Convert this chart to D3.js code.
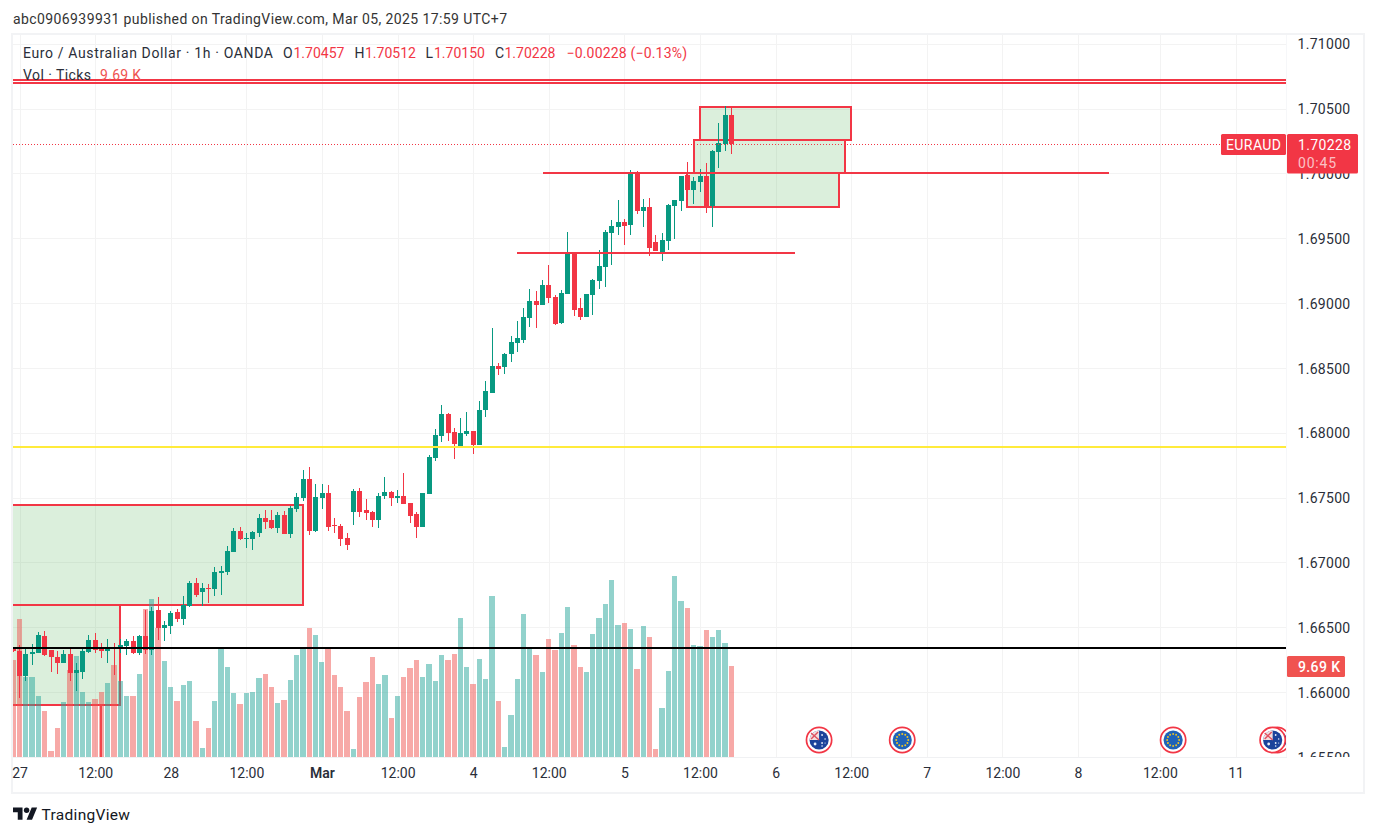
<!DOCTYPE html>
<html><head><meta charset="utf-8">
<script src="https://cdn.jsdelivr.net/npm/d3@7"></script>
<style>html,body{margin:0;padding:0;background:#fff}svg{display:block}text{font-family:Roboto,"Noto Sans",sans-serif}</style>
</head><body><div id="c"></div>
<script>
const opens=[1.66345,1.66320,1.66129,1.66296,1.66304,1.66435,1.66327,1.66273,1.66227,1.66296,1.66150,1.66158,1.66312,1.66404,1.66335,1.66320,1.66343,1.66335,1.66358,1.66397,1.66304,1.66435,1.66327,1.66636,1.66497,1.66512,1.66620,1.66566,1.66667,1.66844,1.66774,1.66805,1.66798,1.66921,1.66929,1.67083,1.67245,1.67183,1.67183,1.67229,1.67345,1.67330,1.67268,1.67368,1.67222,1.67414,1.67499,1.67646,1.67245,1.67499,1.67538,1.67291,1.67284,1.67191,1.67391,1.67553,1.67407,1.67391,1.67330,1.67515,1.67546,1.67499,1.67515,1.67461,1.67376,1.67276,1.67530,1.67808,1.67977,1.68147,1.68008,1.67900,1.67993,1.68016,1.67908,1.68178,1.68309,1.68517,1.68509,1.68610,1.68694,1.68718,1.68887,1.69018,1.68987,1.69142,1.69049,1.68849,1.69072,1.69388,1.68964,1.68895,1.69065,1.69172,1.69280,1.69543,1.69589,1.69627,1.69604,1.70005,1.69712,1.69743,1.69473,1.69396,1.69481,1.69751,1.69789,1.69990,1.69874,1.69936,1.69982,1.69751,1.70167,1.70229,1.70457];
const highs=[1.66353,1.66366,1.66340,1.66374,1.66466,1.66474,1.66327,1.66320,1.66327,1.66335,1.66227,1.66350,1.66443,1.66458,1.66381,1.66412,1.66381,1.66412,1.66412,1.66435,1.66443,1.66636,1.66659,1.66736,1.66551,1.66628,1.66643,1.66744,1.66859,1.66882,1.66844,1.66836,1.66967,1.66975,1.67129,1.67268,1.67276,1.67229,1.67245,1.67376,1.67407,1.67407,1.67391,1.67399,1.67438,1.67538,1.67715,1.67738,1.67607,1.67607,1.67600,1.67345,1.67299,1.67230,1.67569,1.67577,1.67492,1.67399,1.67538,1.67661,1.67553,1.67561,1.67692,1.67461,1.67391,1.67538,1.67831,1.68031,1.68216,1.68155,1.68039,1.68116,1.68162,1.68016,1.68247,1.68401,1.68810,1.68540,1.68617,1.68748,1.68864,1.68964,1.69111,1.69095,1.69180,1.69296,1.69065,1.69103,1.69550,1.69388,1.69041,1.69072,1.69188,1.69411,1.69566,1.69643,1.69797,1.69651,1.70028,1.70021,1.69805,1.69812,1.69527,1.69543,1.69766,1.69797,1.69982,1.70090,1.69974,1.70036,1.70082,1.70182,1.70391,1.70522,1.70512];
const lows=[1.66312,1.65957,1.66088,1.66212,1.66304,1.66281,1.66158,1.66142,1.66227,1.66088,1.66011,1.66104,1.66304,1.66304,1.66266,1.66227,1.66135,1.66304,1.66289,1.66296,1.66289,1.66296,1.66289,1.66404,1.66397,1.66451,1.66543,1.66520,1.66659,1.66736,1.66667,1.66690,1.66744,1.66751,1.66906,1.67083,1.67175,1.67114,1.67098,1.67199,1.67260,1.67260,1.67229,1.67222,1.67191,1.67391,1.67476,1.67214,1.67237,1.67415,1.67245,1.67230,1.67129,1.67098,1.67291,1.67353,1.67330,1.67276,1.67268,1.67492,1.67438,1.67461,1.67453,1.67307,1.67191,1.67276,1.67530,1.67785,1.67931,1.67939,1.67800,1.67900,1.67977,1.67839,1.67908,1.68124,1.68309,1.68448,1.68455,1.68548,1.68625,1.68694,1.68818,1.68810,1.68987,1.69003,1.68833,1.68841,1.69072,1.68903,1.68872,1.68895,1.68910,1.69111,1.69126,1.69296,1.69527,1.69450,1.69527,1.69689,1.69589,1.69365,1.69404,1.69327,1.69411,1.69496,1.69712,1.69789,1.69766,1.69859,1.69697,1.69589,1.70044,1.70175,1.70150];
const closes=[1.66320,1.66129,1.66296,1.66312,1.66443,1.66289,1.66273,1.66227,1.66296,1.66150,1.66173,1.66320,1.66404,1.66327,1.66320,1.66343,1.66335,1.66366,1.66397,1.66304,1.66435,1.66327,1.66628,1.66497,1.66520,1.66613,1.66566,1.66674,1.66844,1.66751,1.66805,1.66798,1.66929,1.66936,1.67091,1.67245,1.67183,1.67191,1.67237,1.67345,1.67314,1.67268,1.67368,1.67222,1.67422,1.67507,1.67646,1.67245,1.67507,1.67538,1.67276,1.67284,1.67183,1.67137,1.67553,1.67391,1.67384,1.67330,1.67515,1.67546,1.67499,1.67515,1.67453,1.67361,1.67276,1.67538,1.67816,1.67985,1.68147,1.68001,1.67916,1.68001,1.68016,1.67908,1.68178,1.68324,1.68517,1.68494,1.68610,1.68702,1.68733,1.68895,1.69018,1.68987,1.69142,1.69041,1.68841,1.69080,1.69388,1.68949,1.68895,1.69072,1.69180,1.69288,1.69550,1.69597,1.69627,1.69597,1.70005,1.69712,1.69743,1.69427,1.69404,1.69489,1.69758,1.69797,1.69982,1.69874,1.69943,1.69982,1.69751,1.70175,1.70236,1.70452,1.70228];
const volumes=[10.33,14.7,8.52,8.52,6.5,4.9,0.64,3.09,5.86,9.27,10.76,6.92,5.86,6.18,6.92,7.88,9.8,8.09,6.5,6.5,8.84,15.76,16.83,13.7,10.2,7.46,5.96,7.67,8.09,3.83,0.96,3.09,5.96,11.5,9.58,6.82,5.64,6.82,6.92,8.41,8.84,7.46,5.75,6.07,8.2,10.86,11.5,13.74,12.99,10.12,11.7,8.73,7.46,4.9,0.85,6.39,7.99,10.65,7.77,8.73,4.15,6.5,8.52,9.48,10.33,8.52,9.9,8.09,10.86,10.33,10.97,14.8,9.58,7.77,10.44,8.31,17.15,5.96,1.07,4.47,8.31,15.23,11.5,10.86,9.05,12.57,11.4,13.2,15.98,11.93,9.58,9.05,13.1,14.8,16.3,18.85,14.06,14.27,13.63,9.37,13.95,12.78,0.85,5.22,9.16,19.28,16.6,15.87,11.93,11.82,13.53,12.78,13.53,12.14,9.69];
const priceTicks=[1.71,1.705,1.70,1.695,1.69,1.685,1.68,1.675,1.67,1.665,1.66,1.655];
const timeTickBars=[1,13,25,37,49,61,73,85,97,109,121,133,145,157,169,182,194];
const timeTickLabels=["27","12:00","28","12:00","Mar","12:00","4","12:00","5","12:00","6","12:00","7","12:00","8","12:00","11"];
// drawing tools: price levels and zones, in bar index / price
const fullLevels=[[1.70722,"#F23645"],[1.70699,"#F23645"],[1.67895,"#FFEB3B"],[1.66342,"#000000"]];
const segmentLevels=[[1.70003,84.0,173.9],[1.69387,80.0,124.0]];
const zoneLeft=[-2,-2,109.0,108.0,107.0];
const zoneRight=[46,17,133.0,132.0,131.0];
const zoneTop=[1.67446,1.66674,1.70512,1.70262,1.70003];
const zoneBottom=[1.66674,1.65903,1.70262,1.70003,1.69745];
const eventBars=[127.9,141.1,184.1,200.6,199.9];
const eventKinds=["AU","EU","EU","AU","AU"];

const W=1376,H=836,RED="#F23645",GREEN="#089981",PL=13,PR=1286,PT=35,PB=757;
const x=d3.scaleLinear().domain([0,194]).range([13.3,1235.5]);
const y=d3.scaleLinear().domain([1.655,1.71]).range([757.35,44.2]);
const yv=d3.scaleLinear().domain([0,9.69]).range([757,666]);
const svg=d3.select("#c").append("svg").attr("width",W).attr("height",H);
const defs=svg.append("defs");
defs.append("clipPath").attr("id","pane").append("rect").attr("x",PL).attr("y",PT).attr("width",PR-PL).attr("height",PB-PT);
defs.append("clipPath").attr("id","axisclip").append("rect").attr("x",1287).attr("y",PT).attr("width",76).attr("height",PB-PT);

const textCol="#2a2e39";
// header
svg.append("text").attr("x",13).attr("y",24).attr("font-size",14).attr("fill","#333").attr("textLength",494).text("abc0906939931 published on TradingView.com, Mar 05, 2025 17:59 UTC+7");
// frame
const frame=svg.append("g").attr("shape-rendering","crispEdges");
frame.append("rect").attr("x",12).attr("y",34).attr("width",1352).attr("height",759).attr("fill","none").attr("stroke","#f2f3f5").attr("stroke-width",2);
// grid
const grid=svg.append("g").attr("clip-path","url(#pane)").attr("shape-rendering","crispEdges");
grid.selectAll("line.v").data(timeTickBars).join("line").attr("x1",d=>Math.round(x(d))+.5).attr("x2",d=>Math.round(x(d))+.5).attr("y1",PT).attr("y2",PB).attr("stroke","#f3f3f3");
grid.selectAll("line.h").data(priceTicks).join("line").attr("x1",PL).attr("x2",PR).attr("y1",d=>Math.floor(y(d))+.5).attr("y2",d=>Math.floor(y(d))+.5).attr("stroke","#f3f3f3");
frame.append("line").attr("x1",PL).attr("x2",PR+1).attr("y1",757.5).attr("y2",757.5).attr("stroke","#f0f1f3");
frame.append("line").attr("x1",PR+.5).attr("x2",PR+.5).attr("y1",PT).attr("y2",PB).attr("stroke","#f6f7f9");

const pane=svg.append("g").attr("clip-path","url(#pane)");
// zones
pane.append("g").selectAll("rect").data(zoneLeft).join("rect")
 .attr("x",(d,i)=>Math.round(x(d))).attr("width",(d,i)=>Math.round(x(zoneRight[i]))-Math.round(x(d)))
 .attr("y",(d,i)=>Math.round(y(zoneTop[i]))).attr("height",(d,i)=>Math.round(y(zoneBottom[i]))-Math.round(y(zoneTop[i])))
 .attr("fill","rgba(76,175,80,0.2)").attr("stroke",RED).attr("stroke-width",2).attr("shape-rendering","crispEdges");
// vertical stub under the lower zone
pane.append("line").attr("x1",x(13.87)).attr("x2",x(13.87)).attr("y1",y(1.65903)).attr("y2",PB).attr("stroke",RED).attr("stroke-width",2).attr("shape-rendering","crispEdges");
// volume
const isUp=i=>closes[i]>=opens[i];
const vx=i=>Math.round(x(i)-2.8);
pane.append("g").attr("shape-rendering","crispEdges").selectAll("rect").data(volumes).join("rect")
 .attr("x",(d,i)=>vx(i)).attr("width",(d,i)=>vx(i+1)-vx(i)-1)
 .attr("y",d=>Math.round(yv(d))).attr("height",d=>757-Math.round(yv(d)))
 .attr("fill",(d,i)=>isUp(i)?"#26a69a":"#ef5350").attr("fill-opacity",.5);
// candles
const cg=pane.append("g").attr("shape-rendering","crispEdges");
cg.selectAll("rect.w").data(opens).join("rect").attr("class","w")
 .attr("x",(d,i)=>Math.round(x(i)-.5)).attr("width",1)
 .attr("y",(d,i)=>Math.round(y(highs[i]))).attr("height",(d,i)=>Math.max(1,Math.round(y(lows[i]))-Math.round(y(highs[i]))))
 .attr("fill",(d,i)=>isUp(i)?GREEN:RED);
cg.selectAll("rect.b").data(opens).join("rect").attr("class","b")
 .attr("x",(d,i)=>Math.round(x(i)-.5)-2).attr("width",5)
 .attr("y",(d,i)=>Math.round(y(Math.max(opens[i],closes[i]))))
 .attr("height",(d,i)=>Math.max(1,Math.round(y(Math.min(opens[i],closes[i])))-Math.round(y(Math.max(opens[i],closes[i])))))
 .attr("fill",(d,i)=>isUp(i)?GREEN:RED);
// levels
const lv=pane.append("g").attr("shape-rendering","crispEdges");
lv.selectAll("line.f").data(fullLevels).join("line").attr("x1",PL).attr("x2",PR)
 .attr("y1",d=>Math.round(y(d[0]))).attr("y2",d=>Math.round(y(d[0]))).attr("stroke",d=>d[1]).attr("stroke-width",2);
lv.selectAll("line.s").data(segmentLevels).join("line").attr("class","s").attr("x1",d=>x(d[1])).attr("x2",d=>x(d[2]))
 .attr("y1",d=>Math.round(y(d[0]))).attr("y2",d=>Math.round(y(d[0]))).attr("stroke",RED).attr("stroke-width",2);
// last price dotted
pane.append("line").attr("x1",PL).attr("x2",1221).attr("y1",Math.floor(y(closes[closes.length-1]))+.5).attr("y2",Math.floor(y(closes[closes.length-1]))+.5).attr("stroke",RED).attr("stroke-dasharray","1 2");
// events
const evg=pane.append("g");
eventBars.forEach((b,k)=>{
 const g=evg.append("g").attr("transform",`translate(${x(b)},740)`);
 g.append("circle").attr("r",12.6).attr("fill","#fff").attr("stroke",RED).attr("stroke-width",1.7);
 g.append("circle").attr("r",9.6).attr("fill",eventKinds[k]=="EU"?"#1f62b8":"#1b439b");
 if(eventKinds[k]=="EU"){
  d3.range(12).forEach(j=>{const a=j*Math.PI/6;g.append("circle").attr("cx",6*Math.cos(a)).attr("cy",6*Math.sin(a)).attr("r",.95).attr("fill","#f3c623");});
 }else{
  g.append("path").attr("d",d3.arc()({innerRadius:0,outerRadius:9.6,startAngle:-Math.PI/2,endAngle:0})).attr("fill","#f3dede");
  g.append("path").attr("d","M-8,-7L0,0M-1,-8L-8,-1").attr("stroke","#e05060").attr("stroke-width",1.4);
  [[-4,4,1.4],[3,-5,.9],[6,-1,.8],[3,3,.9],[3,6,.8],[6,3,.6]].forEach(s=>g.append("circle").attr("cx",s[0]).attr("cy",s[1]).attr("r",s[2]).attr("fill","#e8eef8"));
 }
});
// price axis
const axG=svg.append("g").attr("clip-path","url(#axisclip)");
const ax=axG.append("g").attr("transform","translate(1286,0.3)").call(d3.axisRight(y).tickValues(priceTicks).tickFormat(d3.format(".5f")).tickSize(0).tickPadding(11.5));
ax.select(".domain").remove();
ax.selectAll("text").attr("font-size",14).attr("fill",textCol).style("font-family","Roboto").style("letter-spacing","0.3px");
// time axis
const tx=svg.append("g").attr("transform","translate(0,768.5)").call(d3.axisBottom(x).tickValues(timeTickBars).tickFormat((d,i)=>timeTickLabels[i]).tickSize(0).tickPadding(0));
tx.select(".domain").remove();
tx.selectAll("text").attr("font-size",14).attr("fill",textCol).style("font-family","Roboto").attr("font-weight",(d,i)=>timeTickLabels[i]=="Mar"?600:400);
// tags
const tag=(xx,yy,w,h,f)=>svg.append("rect").attr("x",xx).attr("y",yy).attr("width",w).attr("height",h).attr("fill",f).attr("rx",1.5);
tag(1221,134,65,21,RED);
svg.append("text").attr("x",1226).attr("y",149.5).attr("font-size",14).attr("fill","#fff").attr("textLength",55).text("EURAUD");
tag(1287,134,71,39.5,RED);
svg.append("text").attr("x",1298).attr("y",149.5).attr("font-size",14).attr("fill","#fff").attr("textLength",53).text(closes[closes.length-1].toFixed(5));
svg.append("text").attr("x",1298).attr("y",167.5).attr("font-size",14).attr("fill","#fff").attr("fill-opacity",.7).attr("textLength",38).text("00:45");
tag(1287,656,58,21,"#F05350");
svg.append("text").attr("x",1298).attr("y",671.5).attr("font-size",14).attr("font-weight",500).attr("fill","#fff").attr("textLength",42).text(volumes[volumes.length-1].toFixed(2)+" K");
// legend
const L=[["Euro / Australian Dollar · 1h · OANDA",23,textCol,250],["O",283,textCol,0],["1.70457",293.5,RED,0],["H",354.5,textCol,0],["1.70512",365,RED,0],["L",425.5,textCol,0],["1.70150",434,RED,0],["C",495,textCol,0],["1.70228",504.5,RED,0],["−0.00228 (−0.13%)",566.5,RED,120.5]];
svg.append("g").selectAll("text").data(L).join("text").attr("x",d=>d[1]).attr("y",58).attr("font-size",14).attr("fill",d=>d[2]).attr("textLength",d=>d[3]||null).text(d=>d[0]);
svg.append("text").attr("x",23).attr("y",79.5).attr("font-size",14).attr("fill",textCol).attr("textLength",68).text("Vol · Ticks");
svg.append("text").attr("x",100).attr("y",79.5).attr("font-size",14).attr("fill","#ef5350").attr("textLength",41).text("9.69 K");
// footer logo
const logo=svg.append("g").attr("transform","translate(13,807.5) scale(0.68)").attr("fill","#131722");
logo.append("path").attr("d","M14 18H7V7H0V0h14v18zM28 18h-8L27.5 0h8L28 18z");
logo.append("circle").attr("cx",20).attr("cy",4).attr("r",4);
svg.append("text").attr("x",41.5).attr("y",820).attr("font-size",15.5).attr("fill","#131722").attr("textLength",88.5).text("TradingView");
</script></body></html>
